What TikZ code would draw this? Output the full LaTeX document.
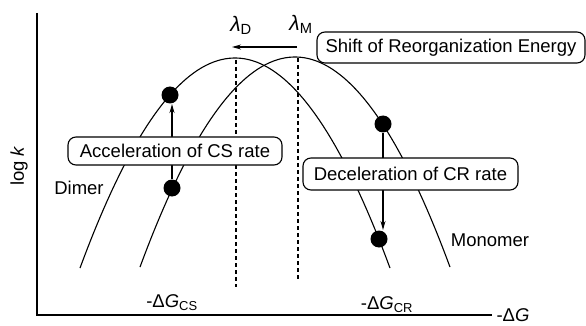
\documentclass[tikz,border=0pt]{standalone}
\usepackage{fontspec}
\setmainfont{Liberation Sans}
\usetikzlibrary{arrows.meta}
\begin{document}
\begin{tikzpicture}[x=1pt,y=-1pt,line width=1.1pt,
  lab/.style={font=\fontsize{18.5}{20}\selectfont, inner sep=0pt},
  rbox/.style={draw, fill=white, rounded corners=8pt, inner sep=0pt, font=\fontsize{18.5}{20}\selectfont},
  dot/.style={circle, fill=black, minimum size=17pt, inner sep=0pt},
  dashline/.style={dash pattern=on 4pt off 3pt, line width=1.1pt},
  arr/.style={-{Stealth[length=9pt,width=5pt]}}]
\useasboundingbox (0,0) rectangle (586,326);
% axes
\coordinate (ytop) at (37,13);
\coordinate (orig) at (37,315);
\coordinate (xend) at (492,315);
\draw (ytop) -- (orig) -- (xend);
\node[lab, rotate=90] (logk) at (19,166) {log \textit{k}};
\node[lab] (dg) at (513,315) {-Δ\textit{G}};
% parabolas
\draw[domain=80:390, samples=80] plot (\x, {58+0.00874*(\x-235)*(\x-235)});
\draw[domain=140:450, samples=80] plot (\x, {57+0.00874*(\x-295)*(\x-295)});
% dashed lines
\coordinate (dtop) at (236,60);
\coordinate (dbot) at (236,287);
\coordinate (mtop) at (298,58);
\coordinate (mbot) at (298,280);
\draw[dashline] (dtop) -- (dbot);
\draw[dashline] (mtop) -- (mbot);
% lambda labels
\node[lab, font=\fontsize{21}{22}\selectfont] (lD) at (241,25) {\textit{λ}\textsubscript{D}};
\node[lab, font=\fontsize{21}{22}\selectfont] (lM) at (301,24) {\textit{λ}\textsubscript{M}};
\coordinate (sa) at (297,47);
\coordinate (sb) at (232,47);
\draw[arr] (sa) -- (sb);
% dots
\node[dot] (d2) at (170,95) {};
\node[dot] (d1) at (172,188) {};
\node[dot] (d3) at (383,124) {};
\node[dot] (d4) at (379,239) {};
% arrows
\draw[arr] (d1) -- (d1 |- d2.south);
\draw[arr] (d3) -- (d3 |- d4.north);
% boxes
\node[rbox, minimum width=214pt, minimum height=28pt] (cs) at (175,151) {Acceleration of CS rate};
\node[rbox, minimum width=268pt, minimum height=31pt] (shift) at (451,47.5) {Shift of Reorganization Energy};
\node[rbox, minimum width=215pt, minimum height=32pt] (cr) at (410.5,174) {Deceleration of CR rate};
% labels
\node[lab] (dimer) at (79,188) {Dimer};
\node[lab] (mono) at (490,240) {Monomer};
\node[lab] (gcs) at (172,303) {-Δ\textit{G}\textsubscript{CS}};
\node[lab] (gcr) at (387,305) {-Δ\textit{G}\textsubscript{CR}};
\end{tikzpicture}
\end{document}
